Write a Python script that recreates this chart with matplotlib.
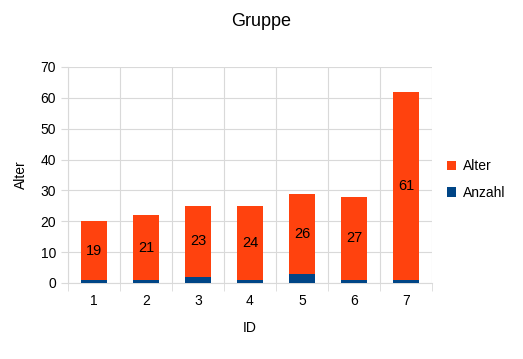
import matplotlib.pyplot as plt
import numpy as np

plt.rcParams['font.family'] = ['Liberation Sans', 'DejaVu Sans']

ids = ['1', '2', '3', '4', '5', '6', '7']
anzahl = [1, 1, 2, 1, 3, 1, 1]
alter = [19, 21, 23, 24, 26, 27, 61]

blue = '#004586'
orange = '#ff420e'
grid = '#d9d9d9'

fig = plt.figure(figsize=(5.23, 3.59), dpi=100)
ax = fig.add_axes([0.130, 0.2117, 0.696, 0.6017])

x = np.arange(len(ids))
ax.bar(x, anzahl, width=0.5, color=blue, label='Anzahl', zorder=3)
ax.bar(x, alter, width=0.5, bottom=anzahl, color=orange, label='Alter', zorder=3)

for xi, a, b in zip(x, anzahl, alter):
    ax.text(xi, a + b / 2, str(b), ha='center', va='center', fontsize=10.5, zorder=4)

ax.set_xlim(-0.5, len(ids) - 0.5)
ax.set_ylim(0, 70)
ax.set_yticks(range(0, 71, 10))
ax.set_xticks(x)
ax.set_xticklabels(ids)
ax.set_xticks(np.arange(-0.5, len(ids)), minor=True)
ax.tick_params(axis='x', which='major', length=0, labelsize=10, pad=8)
ax.tick_params(axis='x', which='minor', length=6, color=grid)
ax.tick_params(axis='y', length=5, color=grid, labelsize=10)
ax.grid(axis='y', color=grid, linewidth=0.8, zorder=0)
ax.grid(axis='x', which='minor', color=grid, linewidth=0.8, zorder=0)
for s in ax.spines.values():
    s.set_visible(False)
ax.spines['bottom'].set_visible(True)
ax.spines['bottom'].set_color(grid)
ax.spines['left'].set_visible(True)
ax.spines['left'].set_color(grid)

ax.set_xlabel('ID', fontsize=10, labelpad=9)
ax.set_ylabel('Alter', fontsize=10)
ax.yaxis.set_label_coords(-0.11, 0.5)
fig.suptitle('Gruppe', fontsize=13, y=0.965)

h, l = ax.get_legend_handles_labels()
fig.legend(h[::-1], l[::-1], loc='center left', bbox_to_anchor=(0.83, 0.50),
           frameon=False, fontsize=10, handlelength=0.7, handleheight=0.7,
           handletextpad=0.5, labelspacing=0.9)

fig.savefig('out.png', dpi=100)
